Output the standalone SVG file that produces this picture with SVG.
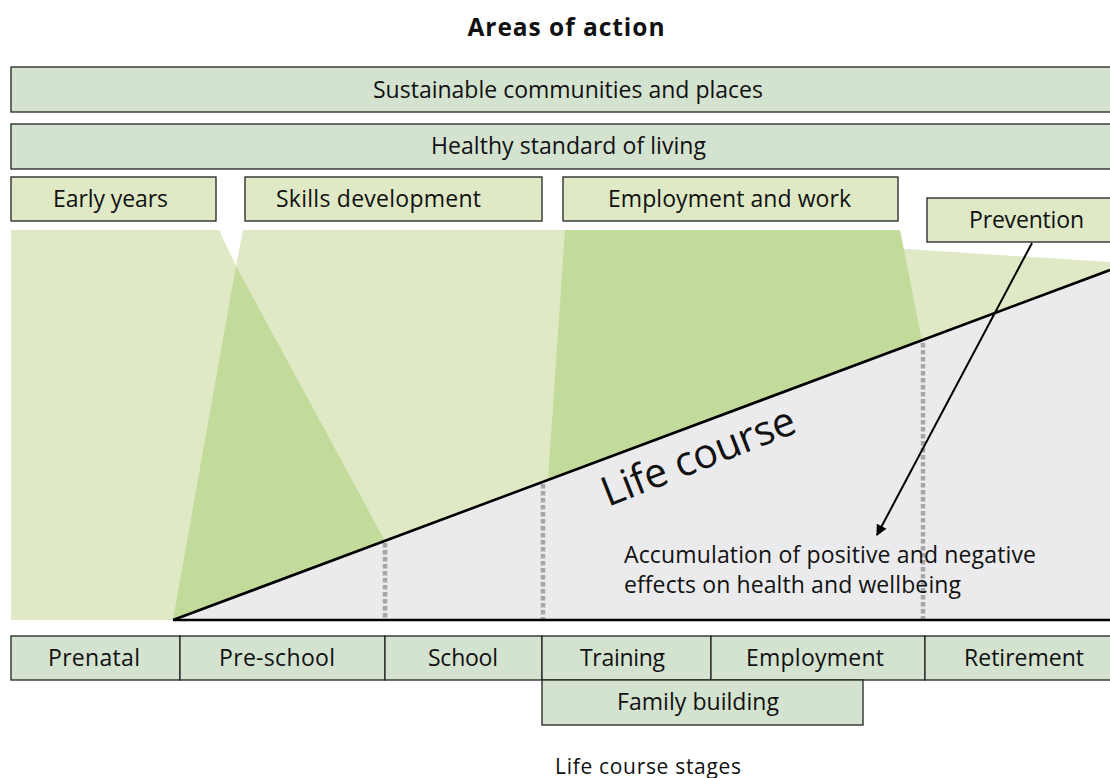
<svg xmlns="http://www.w3.org/2000/svg" width="1110" height="778" viewBox="0 0 1110 778">
<defs>
<style>
text{font-family:"Open Sans","Noto Sans","Liberation Sans",sans-serif;fill:#111;}
.lbl{font-size:23px;text-anchor:middle;}
.bar{fill:#d4e3d0;stroke:#222;stroke-width:1.3;}
.act{fill:#dfe9c6;stroke:#222;stroke-width:1.3;}
.stage{fill:#d4e3d0;stroke:#222;stroke-width:1.3;}
.light{fill:#dfe9c5;}
.dark{fill:#c2da9a;}
.dash{stroke:#a6a6a6;stroke-width:4.5;stroke-dasharray:4.5 2.5;fill:none;}
</style>
<marker id="arr" viewBox="0 0 10 10" refX="9" refY="5" markerWidth="13" markerHeight="11" orient="auto" markerUnits="userSpaceOnUse">
<path d="M0,0 L10,5 L0,10 z" fill="#000"/>
</marker>
</defs>
<rect width="1110" height="778" fill="#fff"/>

<text x="566" y="36" textLength="197" style="font-size:24.5px;font-weight:bold;text-anchor:middle">Areas of action</text>

<g id="regions">
<polygon class="light" points="11,230 219,230 236,266 243,230 565,230 906,249 1110,262 1110,620 11,620"/>
<polygon class="dark" points="236,266 385,541 173,620"/>
<polygon class="dark" points="565,230 900,230 922,341 548,480"/>
<polygon points="173,620 1110,270 1110,620" fill="#ebebed"/>
</g>

<g id="dashes">
<line class="dash" x1="385" y1="543" x2="385" y2="620"/>
<line class="dash" x1="543" y1="484" x2="543" y2="620"/>
<line class="dash" x1="923" y1="343" x2="923" y2="620"/>
</g>

<g id="lifecourse">
<line x1="173" y1="620" x2="1110" y2="270" stroke="#000" stroke-width="2.6"/>
<line x1="173" y1="620" x2="1110" y2="620" stroke="#000" stroke-width="2.6"/>
<text transform="translate(608,507) rotate(-21.5)" textLength="205" style="font-size:41px">Life course</text>
</g>

<g id="n-sustainable">
<rect class="bar" x="11" y="67" width="1120" height="45"/>
<text class="lbl" x="568" y="97.5" textLength="390">Sustainable communities and places</text>
</g>
<g id="n-healthy">
<rect class="bar" x="11" y="124" width="1120" height="45"/>
<text class="lbl" x="568.5" y="153.5" textLength="275">Healthy standard of living</text>
</g>
<g id="n-early">
<rect class="act" x="11" y="177" width="205" height="44"/>
<text class="lbl" x="110.5" y="206.5" textLength="115">Early years</text>
</g>
<g id="n-skills">
<rect class="act" x="245" y="177" width="297" height="44"/>
<text class="lbl" x="378.5" y="206.5" textLength="205">Skills development</text>
</g>
<g id="n-employwork">
<rect class="act" x="563" y="177" width="335" height="44"/>
<text class="lbl" x="729.5" y="206.5" textLength="243">Employment and work</text>
</g>
<g id="n-prevention">
<rect class="act" x="927" y="198" width="200" height="44"/>
<text class="lbl" x="1026.5" y="227.5" textLength="115">Prevention</text>
</g>

<g id="connectors">
<line x1="1032" y1="243" x2="877" y2="535" stroke="#000" stroke-width="2" marker-end="url(#arr)"/>
</g>

<g id="n-accum">
<text x="624" y="562.5" textLength="412" style="font-size:23px">Accumulation of positive and negative</text>
<text x="624" y="592.5" textLength="337" style="font-size:23px">effects on health and wellbeing</text>
</g>

<g id="n-prenatal">
<rect class="stage" x="11" y="636" width="169" height="44"/>
<text class="lbl" x="94" y="665.5" textLength="92">Prenatal</text>
</g>
<g id="n-preschool">
<rect class="stage" x="180" y="636" width="205" height="44"/>
<text class="lbl" x="277" y="665.5" textLength="116">Pre-school</text>
</g>
<g id="n-school">
<rect class="stage" x="385" y="636" width="157" height="44"/>
<text class="lbl" x="463" y="665.5" textLength="70">School</text>
</g>
<g id="n-training">
<rect class="stage" x="542" y="636" width="169" height="44"/>
<text class="lbl" x="622.5" y="665.5" textLength="85">Training</text>
</g>
<g id="n-employment">
<rect class="stage" x="711" y="636" width="214" height="44"/>
<text class="lbl" x="815" y="665.5" textLength="138">Employment</text>
</g>
<g id="n-retirement">
<rect class="stage" x="925" y="636" width="200" height="44"/>
<text class="lbl" x="1024" y="665.5" textLength="120">Retirement</text>
</g>
<g id="n-family">
<rect class="stage" x="542" y="680" width="321" height="45"/>
<text class="lbl" x="698" y="709.5" textLength="162">Family building</text>
</g>

<text x="648" y="774" textLength="186" style="font-size:21px;text-anchor:middle">Life course stages</text>
</svg>
